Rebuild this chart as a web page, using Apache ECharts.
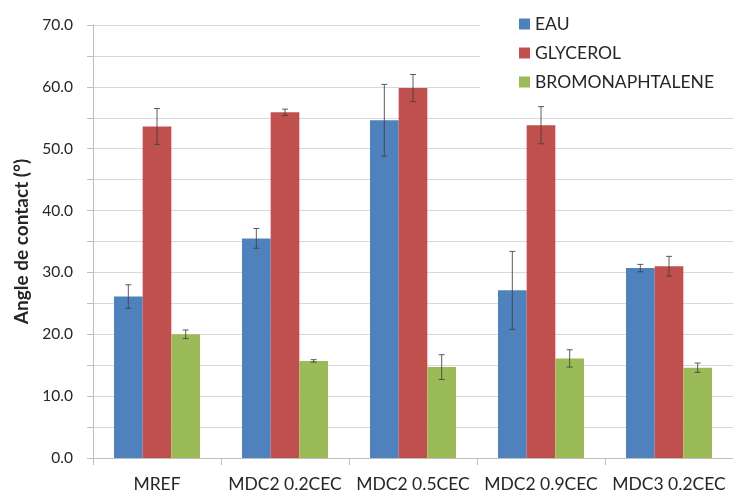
<!DOCTYPE html>
<html>
<head>
<meta charset="utf-8">
<script src="https://cdn.jsdelivr.net/npm/echarts@6/dist/echarts.min.js"></script>
<style>html,body{margin:0;padding:0;background:#fff;}#c{width:733px;height:493px;}</style>
</head>
<body>
<div id="c"></div>
<script>
const categories = ['MREF', 'MDC2 0.2CEC', 'MDC2 0.5CEC', 'MDC2 0.9CEC', 'MDC3 0.2CEC'];
const seriesNames = ['EAU', 'GLYCEROL', 'BROMONAPHTALENE'];
const eau = [26.1, 35.5, 54.6, 27.1, 30.7];
const glycerol = [53.6, 55.9, 59.8, 53.8, 31.0];
const bromo = [20.0, 15.7, 14.7, 16.1, 14.6];
const eauErr = [1.9, 1.6, 5.8, 6.3, 0.6];
const glycerolErr = [2.9, 0.5, 2.2, 3.0, 1.6];
const bromoErr = [0.7, 0.2, 2.0, 1.4, 0.75];
const yTicks = [0, 10, 20, 30, 40, 50, 60, 70];

const colors = ['#4F81BD', '#C0504D', '#9BBB59'];
const values = [eau, glycerol, bromo];
const errs = [eauErr, glycerolErr, bromoErr];
const BAR_FRAC = 0.224;
const FONT = 'Lato, "Open Sans", sans-serif';

const chart = echarts.init(document.getElementById('c'));

const barSeries = values.map((vals, i) => ({
  name: seriesNames[i],
  type: 'bar',
  data: vals,
  barWidth: (BAR_FRAC * 100) + '%',
  barGap: '0%',
  itemStyle: { color: colors[i] },
  z: 2
}));

const errSeries = values.map((vals, i) => ({
  type: 'custom',
  name: seriesNames[i] + '_err',
  data: vals.map((v, j) => [j, v, errs[i][j]]),
  z: 5,
  silent: true,
  renderItem: function (params, api) {
    const idx = api.value(0);
    const v = api.value(1);
    const e = api.value(2);
    const band = api.size([1, 0])[0];
    const off = (i - 1) * band * BAR_FRAC;
    const hi = api.coord([idx, v + e]);
    const lo = api.coord([idx, v - e]);
    const x = hi[0] + off;
    const cap = 3;
    const style = { stroke: '#404040', lineWidth: 1, opacity: 0.85 };
    return {
      type: 'group',
      children: [
        { type: 'line', shape: { x1: x, y1: hi[1], x2: x, y2: lo[1] }, style: style },
        { type: 'line', shape: { x1: x - cap, y1: hi[1], x2: x + cap, y2: hi[1] }, style: style },
        { type: 'line', shape: { x1: x - cap, y1: lo[1], x2: x + cap, y2: lo[1] }, style: style }
      ]
    };
  }
}));

chart.setOption({
  animation: false,
  backgroundColor: '#fff',
  textStyle: { fontFamily: FONT },
  grid: { left: 93, top: 25, width: 648, bottom: 35, containLabel: false },
  legend: {
    data: seriesNames,
    orient: 'vertical',
    left: 480,
    top: 3,
    padding: [12, 40, 13, 39],
    backgroundColor: '#fff',
    itemWidth: 11,
    itemHeight: 11,
    itemGap: 11,
    icon: 'rect',
    textStyle: { fontSize: 17.5, color: '#262626', fontFamily: FONT },
    z: 10
  },
  xAxis: {
    type: 'category',
    data: categories,
    axisLine: { lineStyle: { color: '#BFBFBF' } },
    axisTick: { show: true, length: 7, lineStyle: { color: '#BFBFBF' } },
    axisLabel: { color: '#262626', fontSize: 17.5, margin: 17, fontFamily: FONT, interval: 0 }
  },
  yAxis: {
    type: 'value',
    min: 0,
    max: 70,
    interval: 5,
    name: 'Angle de contact (°)',
    nameLocation: 'middle',
    nameGap: 59,
    nameRotate: 90,
    nameTextStyle: { fontSize: 19, fontWeight: 'bold', color: '#262626', fontFamily: FONT },
    axisLine: { show: true, lineStyle: { color: '#BFBFBF' } },
    axisTick: { show: true, length: 6, lineStyle: { color: '#BFBFBF' } },
    axisLabel: {
      color: '#262626', fontSize: 15.5, margin: 20, fontFamily: FONT,
      formatter: function (v) { return yTicks.indexOf(v) >= 0 ? v.toFixed(1) : ''; }
    },
    splitLine: { lineStyle: { color: '#D9D9D9' } }
  },
  series: barSeries.concat(errSeries)
});
</script>
</body>
</html>
